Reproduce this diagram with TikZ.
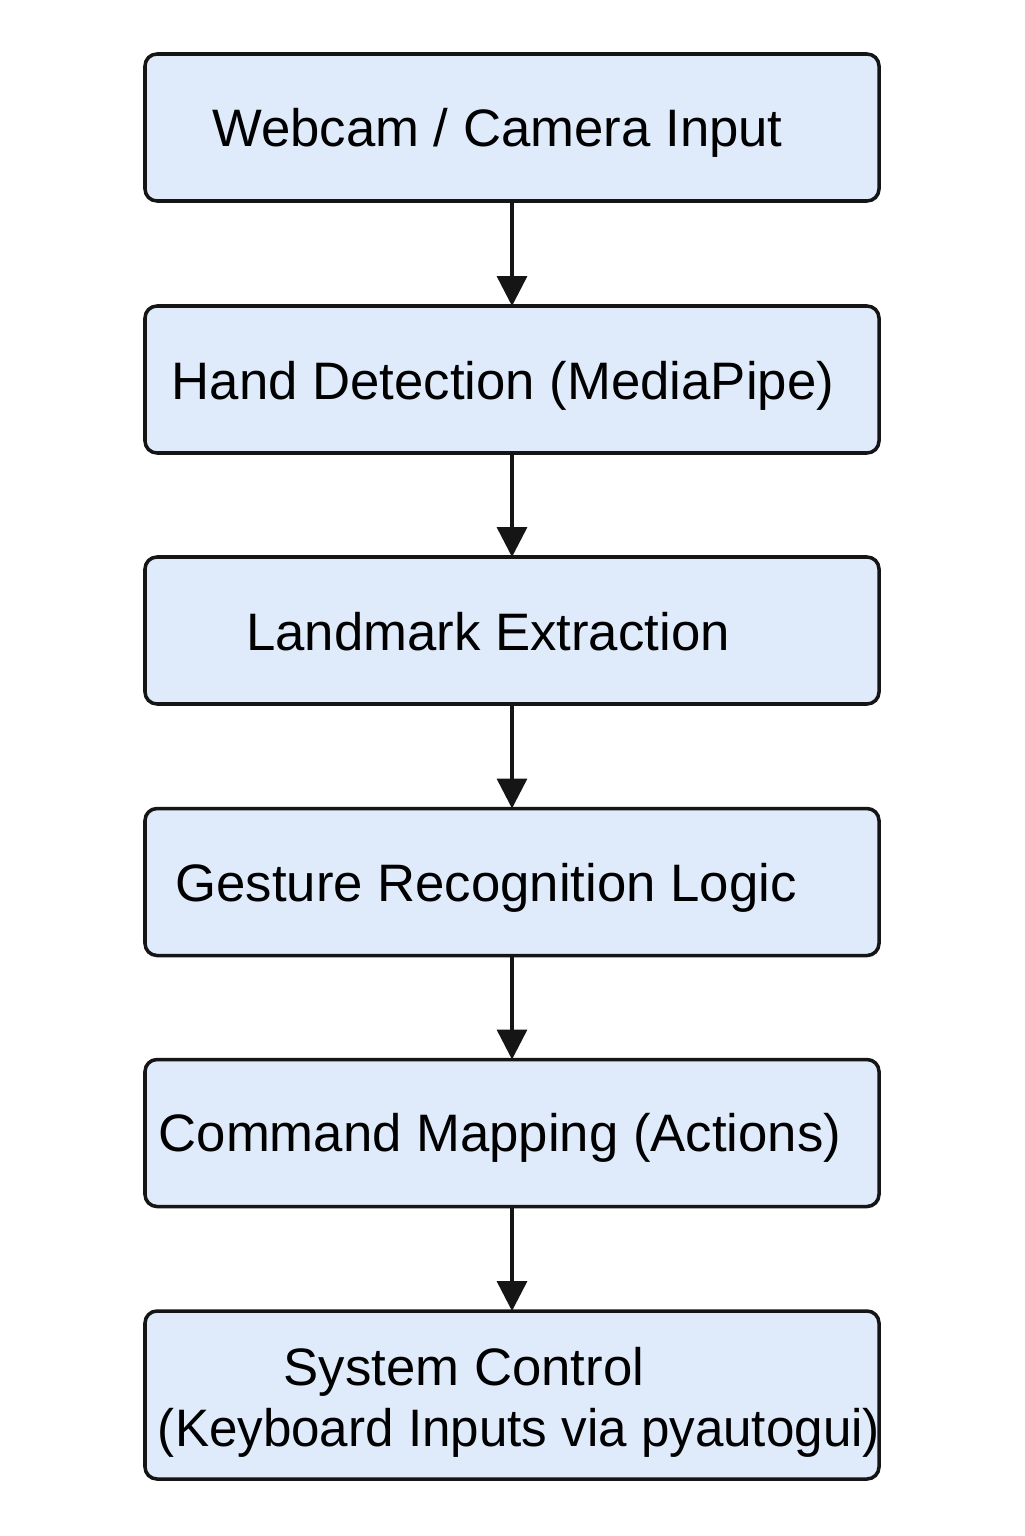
\documentclass[tikz,border=0pt]{standalone}
\usepackage{fontspec}
\setmainfont{Liberation Sans}
\usetikzlibrary{arrows.meta}

\definecolor{boxfill}{HTML}{DFEBFB}
\definecolor{boxline}{HTML}{151515}

\tikzset{
  stage/.style={draw=boxline, fill=boxfill, line width=1pt, rounded corners=0.12cm,
    minimum width=7.34cm, minimum height=1.47cm, inner sep=0pt, outer sep=0pt},
  stagetext/.style={anchor=base, inner sep=0pt, font=\fontsize{15}{18}\selectfont},
  flow/.style={draw=boxline, line width=1pt, -{Triangle[width=0.3cm, length=0.3cm]}}
}

\begin{document}
\begin{tikzpicture}
\useasboundingbox (0,0) rectangle (10.24,-15.36);

\node[stage] (webcam) at (5.12,-1.275) {};
\node[stage] (hand) at (5.12,-3.795) {};
\node[stage] (landmark) at (5.12,-6.305) {};
\node[stage] (gesture) at (5.12,-8.82) {};
\node[stage] (command) at (5.12,-11.33) {};
\node[stage, minimum height=1.68cm] (system) at (5.12,-13.95) {};

\node[stagetext] (webcamtext) at (4.975,-1.47) {Webcam / Camera Input};
\node[stagetext] (handtext) at (5.03,-3.99) {Hand Detection (MediaPipe)};
\node[stagetext] (landmarktext) at (4.88,-6.50) {Landmark Extraction};
\node[stagetext] (gesturetext) at (4.86,-9.01) {Gesture Recognition Logic};
\node[stagetext] (commandtext) at (5.00,-11.51) {Command Mapping (Actions)};
\node[stagetext] (systemtext) at (4.64,-13.85) {System Control};
\node[stagetext, xscale=0.97] (pyautoguitext) at (5.19,-14.46) {(Keyboard Inputs via pyautogui)};

\draw[flow] (webcam) -- (hand);
\draw[flow] (hand) -- (landmark);
\draw[flow] (landmark) -- (gesture);
\draw[flow] (gesture) -- (command);
\draw[flow] (command) -- (system);
\end{tikzpicture}
\end{document}
